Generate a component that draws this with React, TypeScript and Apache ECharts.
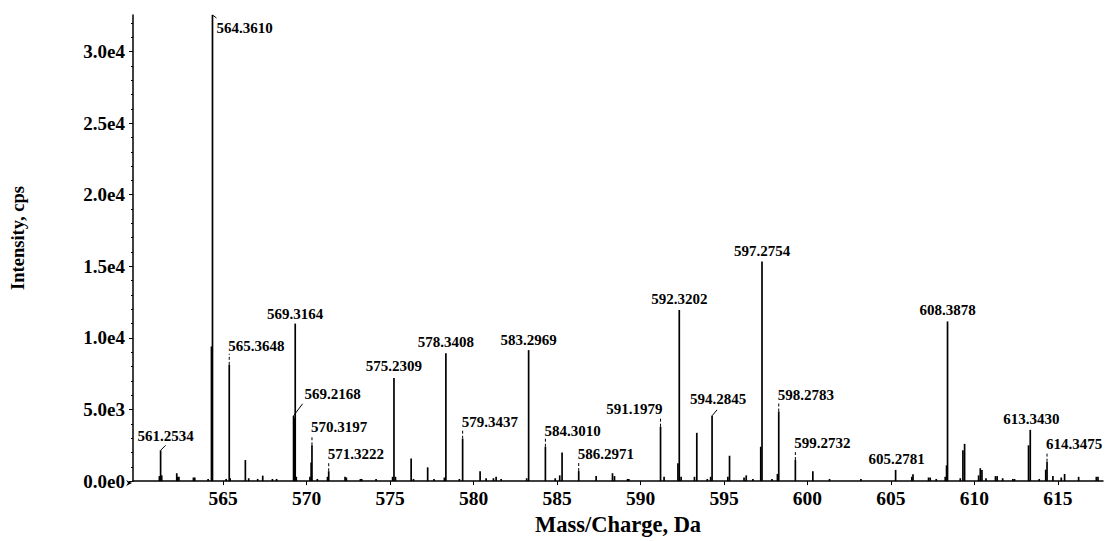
import React, { useEffect, useRef } from "react";
import * as echarts from "echarts";

// ---- Data (m/z, intensity in cps) ----
const peakMz = [
  561.18, 561.2534, 561.32, 562.22, 562.27, 562.35, 563.22, 563.3, 564.1, 564.3, 564.361,
  565.18, 565.3648, 565.42, 566.33, 566.53, 567.07, 567.37, 567.95, 568.2,
  569.2168, 569.26, 569.3164, 569.38, 570.2, 570.27, 570.3197, 570.64, 571.25, 571.3222,
  572.3, 572.38, 573.22, 573.3, 574.16, 575.15, 575.2309, 575.32, 576.26, 576.4, 577.25, 577.63,
  578.25, 578.3408, 579.15, 579.3437, 580.39, 580.75, 581.19, 581.35, 581.65,
  583.18, 583.2969, 584.301, 584.89, 585.16, 585.3, 586.2971, 587.34, 588.32, 588.44,
  589.22, 589.3, 591.1979, 591.41, 592.24, 592.3202, 592.43, 593.23, 593.37, 594.0, 594.2,
  594.2845, 595.23, 595.33, 596.2, 596.33, 596.73, 597.2, 597.2754, 597.87, 598.2, 598.2783,
  599.2732, 600.32, 601.32, 603.2, 605.2781, 606.25, 606.32, 607.25, 607.35, 607.71,
  608.25, 608.33, 608.3878, 609.15, 609.31, 609.41, 610.25, 610.35, 610.45, 610.69,
  611.26, 611.36, 611.69, 612.3, 612.4, 613.24, 613.343, 613.88, 614.27, 614.3475, 614.7,
  615.2, 615.4, 616.24, 617.3, 617.4,
];
const peakIntensity = [
  350, 2150, 400, 550, 300, 300, 250, 250, 150, 9400, 32550,
  150, 8120, 200, 1470, 200, 150, 380, 150, 150,
  4560, 4400, 11000, 300, 300, 1300, 2500, 150, 300, 690,
  300, 250, 150, 150, 150, 300, 7200, 300, 1580, 150, 960, 150,
  250, 8920, 150, 2960, 690, 200, 200, 300, 150,
  200, 9150, 2400, 200, 400, 2000, 700, 360, 550, 350,
  150, 150, 3800, 300, 1240, 11950, 300, 300, 3370, 150, 300,
  4560, 300, 1770, 250, 400, 150, 2400, 15340, 150, 500, 4860,
  1470, 690, 150, 150, 780, 300, 480, 250, 250, 150,
  300, 1100, 11150, 200, 2150, 2600, 400, 900, 780, 200,
  350, 350, 200, 150, 150, 2500, 3580, 150, 800, 1360, 350,
  250, 500, 300, 300, 300,
];

const labelMz = [
  561.2534, 564.361, 565.3648, 569.2168, 569.3164, 570.3197, 571.3222, 575.2309, 578.3408,
  579.3437, 583.2969, 584.301, 586.2971, 591.1979, 592.3202, 594.2845, 597.2754, 598.2783,
  599.2732, 605.2781, 608.3878, 613.343, 614.3475,
];
const labelIntensity = [
  2150, 32550, 8120, 4560, 11000, 2500, 690, 7200, 8920,
  2960, 9150, 2400, 700, 3800, 11950, 4560, 15340, 4860,
  1470, 780, 11150, 3580, 1360,
];
const labelText = [
  "561.2534", "564.3610", "565.3648", "569.2168", "569.3164", "570.3197", "571.3222", "575.2309", "578.3408",
  "579.3437", "583.2969", "584.3010", "586.2971", "591.1979", "592.3202", "594.2845", "597.2754", "598.2783",
  "599.2732", "605.2781", "608.3878", "613.3430", "614.3475",
];

const xTicks = [565, 570, 575, 580, 585, 590, 595, 600, 605, 610, 615];
const yTicks = [0, 5000, 10000, 15000, 20000, 25000, 30000];
const yMinorTicks = [
  1000, 2000, 3000, 4000, 6000, 7000, 8000, 9000, 11000, 12000, 13000, 14000,
  16000, 17000, 18000, 19000, 21000, 22000, 23000, 24000, 26000, 27000, 28000, 29000,
  31000, 32000,
];

// ---- Label placement (presentation only) ----
type Placement = { dx: number; dy: number; align: "left" | "center" | "right"; leader: "none" | "dash" | "diag"; lx?: number; ly?: number };
const labelPlacement: Placement[] = [
  { dx: 5, dy: -14, align: "center", leader: "diag", lx: 5, ly: -5 },
  { dx: 4, dy: 13, align: "left", leader: "diag", lx: 4, ly: 3 },
  { dx: -1, dy: -19, align: "left", leader: "dash" },
  { dx: 39, dy: -22, align: "center", leader: "diag", lx: 9, ly: -12 },
  { dx: 0, dy: -10, align: "center", leader: "none" },
  { dx: -1, dy: -18, align: "left", leader: "dash" },
  { dx: -1, dy: -17, align: "left", leader: "dash" },
  { dx: 0, dy: -11.5, align: "center", leader: "none" },
  { dx: 0, dy: -11.5, align: "center", leader: "none" },
  { dx: -1, dy: -17, align: "left", leader: "dash" },
  { dx: 0, dy: -10, align: "center", leader: "none" },
  { dx: -1, dy: -16, align: "left", leader: "dash" },
  { dx: -1, dy: -17, align: "left", leader: "dash" },
  { dx: 2, dy: -18, align: "right", leader: "dash" },
  { dx: 0, dy: -11, align: "center", leader: "none" },
  { dx: 6, dy: -17, align: "center", leader: "diag", lx: 5, ly: -6 },
  { dx: 0, dy: -10, align: "center", leader: "none" },
  { dx: -1, dy: -16.5, align: "left", leader: "dash" },
  { dx: -1, dy: -17.5, align: "left", leader: "dash" },
  { dx: 1, dy: -10.5, align: "center", leader: "none" },
  { dx: 0, dy: -11, align: "center", leader: "none" },
  { dx: 1, dy: -11, align: "center", leader: "none" },
  { dx: -1, dy: -18, align: "left", leader: "dash" },
];

const FONT = '"Liberation Serif", "Times New Roman", serif';

function fmtSci(v: number): string {
  if (v === 0) return "0.0e0";
  const e = Math.floor(Math.log10(v));
  const m = v / Math.pow(10, e);
  return m.toFixed(1) + "e" + e;
}

export default function App() {
  const ref = useRef<HTMLDivElement>(null);
  useEffect(() => {
    if (!ref.current) return;
    const chart = echarts.init(ref.current, undefined, { renderer: "svg" });
    const sticks = peakMz.map((m, i) => [m, peakIntensity[i]]);
    const labels = labelMz.map((m, i) => [m, labelIntensity[i]]);
    const option: any = {
      animation: false,
      backgroundColor: "#ffffff",
      grid: { left: 133, right: 2, top: 15, bottom: 53, containLabel: false },
      xAxis: {
        type: "value",
        min: 559.6,
        max: 617.7,
        name: "Mass/Charge, Da",
        nameLocation: "middle",
        nameGap: 28,
        nameTextStyle: { fontFamily: FONT, fontWeight: "bold", fontSize: 22.5, color: "#000" },
        axisLine: { show: true, onZero: false, lineStyle: { color: "#000", width: 1.5 } },
        axisTick: { show: true, length: 4, customValues: xTicks, lineStyle: { color: "#000", width: 1 } },
        axisLabel: {
          customValues: xTicks,
          margin: 7,
          fontFamily: FONT,
          fontWeight: "bold",
          fontSize: 19.5,
          color: "#000",
          formatter: (v: number) => String(Math.round(v)),
        },
        splitLine: { show: false },
      },
      yAxis: [
        {
          type: "value",
          min: 0,
          max: 32550,
          name: "Intensity, cps",
          nameLocation: "middle",
          nameGap: 106,
          nameRotate: 90,
          nameTextStyle: { fontFamily: FONT, fontWeight: "bold", fontSize: 18.5, color: "#000", padding: [0, 0, 0, 20] },
          axisLine: { show: true, lineStyle: { color: "#000", width: 1.5 } },
          axisTick: { show: true, length: 4, customValues: yTicks, lineStyle: { color: "#000", width: 1 } },
          axisLabel: {
            customValues: yTicks,
            margin: 8,
            fontFamily: FONT,
            fontWeight: "bold",
            fontSize: 19,
            color: "#000",
            formatter: (v: number) => fmtSci(v),
          },
          splitLine: { show: false },
        },
        {
          type: "value",
          min: 0,
          max: 32550,
          position: "left",
          axisLine: { show: false },
          axisTick: { show: true, length: 2, customValues: yMinorTicks, lineStyle: { color: "#000", width: 1 } },
          axisLabel: { show: false },
          splitLine: { show: false },
        },
      ],
      graphic: [
        {
          type: "polygon",
          shape: { points: [[126, 480], [132, 483], [126, 486], [128, 483]] },
          style: { fill: "#000" },
        },
      ],
      series: [
        {
          type: "custom",
          name: "spectrum",
          data: sticks,
          renderItem: (params: any, api: any) => {
            const m = api.value(0);
            const p0 = api.coord([m, 0]);
            const p1 = api.coord([m, api.value(1)]);
            return {
              type: "line",
              shape: { x1: p0[0], y1: p0[1], x2: p1[0], y2: p1[1] },
              style: { stroke: "#000", lineWidth: 1.7 },
            };
          },
        },
        {
          type: "custom",
          name: "labels",
          data: labels,
          renderItem: (params: any, api: any) => {
            const i = params.dataIndex;
            const pl = labelPlacement[i];
            const top = api.coord([api.value(0), api.value(1)]);
            const children: any[] = [];
            const tx = top[0] + pl.dx;
            const ty = top[1] + pl.dy;
            children.push({
              type: "text",
              x: tx,
              y: ty,
              style: {
                text: labelText[i],
                fontFamily: FONT,
                fontWeight: "bold",
                fontSize: 15,
                fill: "#000",
                align: pl.align,
                verticalAlign: "middle",
              },
            });
            if (pl.leader === "dash") {
              children.push({
                type: "line",
                shape: { x1: top[0], y1: top[1], x2: top[0], y2: ty + 8 },
                style: { stroke: "#000", lineWidth: 1, lineDash: [3, 2] },
              });
            } else if (pl.leader === "diag") {
              children.push({
                type: "line",
                shape: { x1: top[0], y1: top[1], x2: top[0] + (pl.lx || 0), y2: top[1] + (pl.ly || 0) },
                style: { stroke: "#000", lineWidth: 1 },
              });
            }
            return { type: "group", children };
          },
        },
      ],
    };
    chart.setOption(option);
    return () => chart.dispose();
  }, []);
  return <div ref={ref} style={{ width: 1105, height: 541, position: "absolute", left: 0, top: 0 }} />;
}
